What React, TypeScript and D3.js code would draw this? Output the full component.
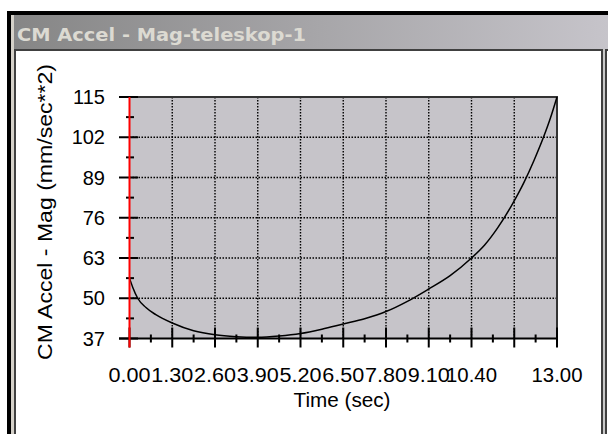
import React from "react";
import * as d3 from "d3";

const timeValues = [0, 0.1, 0.25, 0.5, 0.8, 1.3, 1.95, 2.6, 3.25, 3.9, 4.55, 5.2, 5.85, 6.5, 7.15, 7.8, 8.45, 9.1, 9.75, 10.4, 10.8, 11.2, 11.6, 12.0, 12.3, 12.6, 12.8, 13.0];
const accelValues = [56.5, 53.5, 50.0, 47.0, 44.7, 42.0, 39.5, 38.2, 37.6, 37.4, 37.8, 38.6, 40.0, 41.7, 43.4, 45.7, 49.0, 53.0, 57.3, 63.0, 67.2, 72.8, 79.6, 87.5, 94.5, 102.3, 108.2, 115.0];
const xTicks = [0, 1.3, 2.6, 3.9, 5.2, 6.5, 7.8, 9.1, 10.4, 11.7, 13.0];
const xTickLabels = ["0.00", "1.30", "2.60", "3.90", "5.20", "6.50", "7.80", "9.10", "10.40", "", "13.00"];
const yTicks = [37, 50, 63, 76, 89, 102, 115];
const windowTitle = "CM Accel - Mag-teleskop-1";
const xTitle = "Time (sec)";
const yTitle = "CM Accel - Mag (mm/sec**2)";

export default function App() {
  const W = 608, H = 434;
  const L = 129.5, R = 557, T = 97, B = 338.5;
  const x = d3.scaleLinear().domain([0, 13]).range([L, R]);
  const y = d3.scaleLinear().domain([37, 115]).range([B, T]);
  const pts = timeValues.map((t, i) => [t, accelValues[i]] as [number, number]);
  const line = d3.line<[number, number]>().x(d => x(d[0])).y(d => y(d[1])).curve(d3.curveMonotoneX);
  const xMinor = xTicks.slice(0, -1).map((t, i) => (t + xTicks[i + 1]) / 2);
  const yMinor = yTicks.slice(0, -1).map((t, i) => (t + yTicks[i + 1]) / 2);
  const font = "Liberation Sans, Arial, sans-serif";
  return (
    <svg width={W} height={H} style={{ position: "absolute", left: 0, top: 0 }} xmlns="http://www.w3.org/2000/svg">
      <defs>
        <linearGradient id="tb" x1="0" x2="1" y1="0" y2="0">
          <stop offset="0" stopColor="#868686" />
          <stop offset="1" stopColor="#c6c4ca" />
        </linearGradient>
      </defs>
      <rect x={0} y={0} width={W} height={H} fill="#ffffff" />
      {/* window frame */}
      <rect x={7} y={11} width={W - 7} height={4} fill="#000" />
      <rect x={7} y={11} width={4} height={H - 11} fill="#000" />
      <rect x={11} y={15} width={3} height={H - 15} fill="#d4d0c8" />
      <rect x={14} y={15} width={W - 14} height={34} fill="url(#tb)" />
      <text x={17} y={41} fontFamily="DejaVu Sans, Verdana, sans-serif" fontWeight="bold" fontSize={18}
        fill="#dcdad2" textLength={289} lengthAdjust="spacingAndGlyphs">{windowTitle}</text>
      <rect x={14} y={49} width={W - 14} height={2} fill="#404040" />
      <rect x={14} y={49} width={2} height={H - 49} fill="#404040" />
      <rect x={16} y={51} width={585} height={H - 51} fill="#ffffff" />
      <rect x={601} y={49} width={2} height={H - 49} fill="#404040" />
      <rect x={603} y={49} width={2} height={H - 49} fill="#c8c8c8" />
      <rect x={605} y={49} width={2} height={H - 49} fill="#404040" />

      {/* plot area */}
      <rect x={L} y={T} width={R - L} height={B - T} fill="#c6c4c9" />
      {xTicks.slice(1, -1).map(t => (
        <line key={"gx" + t} x1={x(t)} x2={x(t)} y1={T} y2={B} stroke="#000" strokeWidth={1.4} strokeDasharray="1.5,1.5" />
      ))}
      {yTicks.slice(1, -1).map(v => (
        <line key={"gy" + v} x1={L} x2={R} y1={y(v)} y2={y(v)} stroke="#000" strokeWidth={1.4} strokeDasharray="1.5,1.5" />
      ))}
      <line x1={L} x2={R + 1} y1={T} y2={T} stroke="#333" strokeWidth={2} />
      <line x1={R} x2={R} y1={T} y2={B} stroke="#333" strokeWidth={2} />

      {/* curve */}
      <path d={line(pts) || ""} fill="none" stroke="#000" strokeWidth={1.5} />

      {/* x axis */}
      <line x1={119} x2={R + 1} y1={B} y2={B} stroke="#000" strokeWidth={2} />
      {xTicks.map(t => (
        <line key={"xt" + t} x1={x(t)} x2={x(t)} y1={B - 11} y2={B + 9} stroke="#000" strokeWidth={2} />
      ))}
      {xMinor.map(t => (
        <line key={"xm" + t} x1={x(t)} x2={x(t)} y1={B - 4} y2={B + 4} stroke="#000" strokeWidth={2} />
      ))}
      {xTicks.map((t, i) => xTickLabels[i] ? (
        <text key={"xl" + t} x={x(t)} y={382} textAnchor="middle" fontFamily={font} fontSize={20} fill="#000"
          textLength={xTickLabels[i].length > 4 ? 51 : 42} lengthAdjust="spacingAndGlyphs">{xTickLabels[i]}</text>
      ) : null)}
      <text x={342} y={407} textAnchor="middle" fontFamily={font} fontSize={20} fill="#000"
        textLength={97} lengthAdjust="spacingAndGlyphs">{xTitle}</text>

      {/* y axis */}
      {yTicks.map(v => (
        <line key={"yt" + v} x1={119} x2={138} y1={y(v)} y2={y(v)} stroke="#000" strokeWidth={2} />
      ))}
      {yMinor.map(v => (
        <line key={"ym" + v} x1={126} x2={134} y1={y(v)} y2={y(v)} stroke="#000" strokeWidth={2} />
      ))}
      <line x1={L} x2={L} y1={T} y2={B + 9} stroke="#ff0000" strokeWidth={2} />
      {yTicks.map(v => (
        <text key={"yl" + v} x={105} y={y(v) + 7} textAnchor="end" fontFamily={font} fontSize={20} fill="#000">{v}</text>
      ))}
      <text transform="translate(52,212) rotate(-90)" textAnchor="middle" fontFamily={font} fontSize={21}
        fill="#000" textLength={296} lengthAdjust="spacingAndGlyphs">{yTitle}</text>
    </svg>
  );
}
